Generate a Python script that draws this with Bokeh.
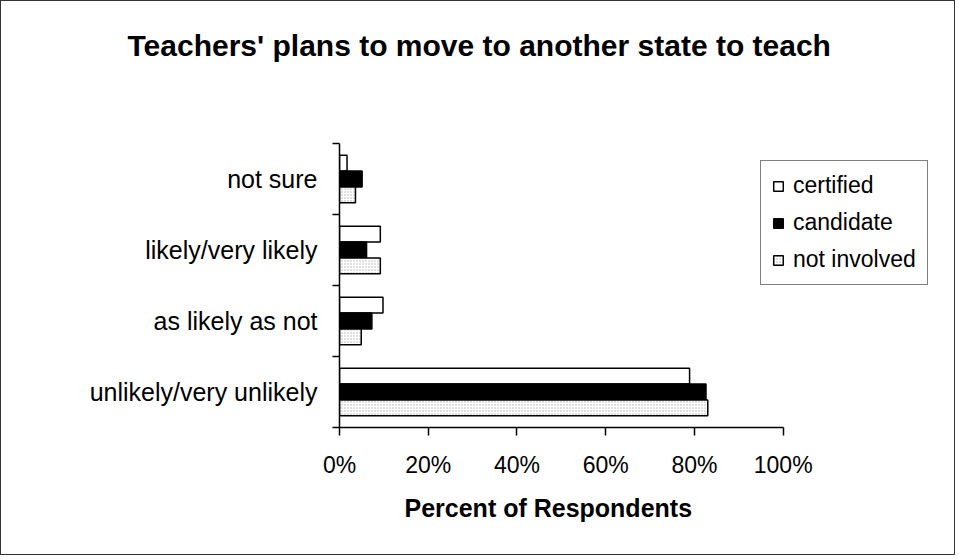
from bokeh.plotting import figure
from bokeh.models import (ColumnDataSource, Range1d, FixedTicker,
                          PrintfTickFormatter, Legend, LegendItem, Title)
from bokeh.transform import dodge
from bokeh.embed import file_html
from bokeh.resources import INLINE

# ---- data ----
categories = ["unlikely/very unlikely", "as likely as not", "likely/very likely", "not sure"]
certified = [78.9, 9.8, 9.2, 1.7]
candidate = [82.6, 7.3, 6.1, 5.1]
not_involved = [83.0, 4.9, 9.2, 3.6]
x_ticks = [0, 20, 40, 60, 80, 100]

# category slots on a numeric axis: centre of slot i is i + 0.5
pos = [i + 0.5 for i in range(len(categories))]
bounds = list(range(len(categories) + 1))

src = ColumnDataSource(dict(pos=pos, cat=categories, certified=certified,
                            candidate=candidate, not_involved=not_involved))

FONT = "Liberation Sans"

# the frame is extended to the right (invisible) so the legend can sit inside it;
# the x axis itself is bounded to 0..100 %
p = figure(width=955, height=555, output_backend="svg", toolbar_location=None,
           title_location=None,
           y_range=Range1d(0, len(categories)), x_range=Range1d(0, 135),
           min_border_left=338, min_border_right=18, min_border_top=142, min_border_bottom=129)
p.outline_line_color = None
p.xgrid.visible = False
p.ygrid.visible = False
p.styles = {"border": "1px solid #333"}

bh = 0.224
r1 = p.hbar(y=dodge("pos", 0.224), right="certified", left=0, height=bh,
            source=src, fill_color="white", line_color="black", line_width=1.5)
r2 = p.hbar(y=dodge("pos", 0.0), right="candidate", left=0, height=bh,
            source=src, fill_color="black", line_color="black", line_width=1.5)
r3 = p.hbar(y=dodge("pos", -0.224), right="not_involved", left=0, height=bh,
            source=src, fill_color="white", line_color="black", line_width=1.5,
            hatch_pattern=".", hatch_color="#b0b0b0", hatch_scale=3, hatch_weight=1)

# x axis
xa = p.xaxis[0]
xa.bounds = (0, 100)
xa.ticker = FixedTicker(ticks=x_ticks)
xa.formatter = PrintfTickFormatter(format="%d%%")
xa.major_tick_in = 0
xa.major_tick_out = 8
xa.minor_tick_line_color = None
xa.axis_line_color = "black"
xa.axis_line_width = 1.5
xa.major_tick_line_width = 1.5
xa.major_label_text_font = FONT
xa.major_label_text_font_size = "23px"
xa.major_label_text_color = "black"
xa.major_label_standoff = 16

# x axis title, centred under the 0..100 % axis
xtitle = Title(text="Percent of Respondents", align="left", offset=65, standoff=26,
               vertical_align="top", text_font=FONT, text_font_style="bold",
               text_font_size="25px", text_color="black")
p.add_layout(xtitle, "below")

# y axis: ticks at category boundaries, labels at centres
ya = p.yaxis[0]
ya.ticker = FixedTicker(ticks=pos, minor_ticks=bounds)
ya.major_label_overrides = {c: lab for c, lab in zip(pos, categories)}
ya.major_tick_in = 0
ya.major_tick_out = 0
ya.minor_tick_in = 0
ya.minor_tick_out = 7
ya.minor_tick_line_width = 1.5
ya.axis_line_width = 1.5
ya.major_label_text_font = FONT
ya.major_label_text_font_size = "25px"
ya.major_label_text_color = "black"
ya.major_label_standoff = 15

# legend
legend = Legend(items=[LegendItem(label="certified", renderers=[r1]),
                       LegendItem(label="candidate", renderers=[r2]),
                       LegendItem(label="not involved", renderers=[r3])],
                location=(421, 142), orientation="vertical",
                label_text_font=FONT, label_text_font_size="23px", label_text_color="black",
                glyph_width=12, glyph_height=12, label_standoff=9, spacing=10, padding=11,
                margin=0, border_line_color="black", border_line_width=1.2,
                background_fill_color="white", background_fill_alpha=1)
p.add_layout(legend, "center")

# spacer between frame and title, then the title itself (centred on the whole chart)
spacer = Title(text=" ", text_font_size="10px", standoff=69)
p.add_layout(spacer, "above")
title = Title(text="Teachers' plans to move to another state to teach", align="left",
              offset=-212, standoff=0, vertical_align="bottom",
              text_font=FONT, text_font_style="bold", text_font_size="30px", text_color="black")
p.add_layout(title, "above")

open("out.html", "w").write(file_html(p, INLINE))
